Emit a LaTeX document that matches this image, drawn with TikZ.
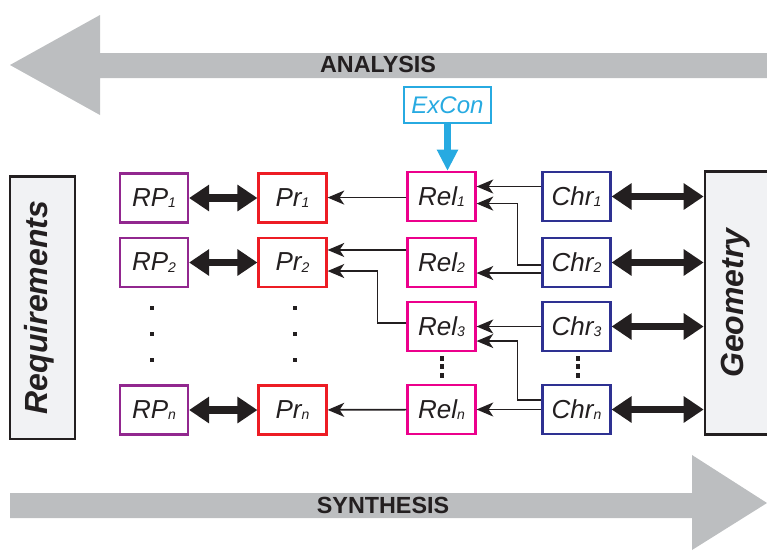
\documentclass[tikz,border=0pt]{standalone}
\usepackage{fontspec}
\setmainfont{Liberation Sans}
\usetikzlibrary{arrows.meta,positioning,calc}
\definecolor{rpcol}{RGB}{146,39,143}
\definecolor{prcol}{RGB}{237,28,36}
\definecolor{relcol}{RGB}{236,0,140}
\definecolor{chrcol}{RGB}{46,49,146}
\definecolor{excol}{RGB}{39,170,225}
\definecolor{bandgray}{RGB}{188,190,192}
\definecolor{panel}{RGB}{241,242,244}
\definecolor{ink}{RGB}{35,31,32}
\newcommand{\ix}[1]{\raisebox{-0.12ex}{\fontsize{10.5}{10.5}\selectfont #1}}

\begin{document}
\begin{tikzpicture}[x=0.75pt,y=-0.75pt,
  box/.style={draw,line width=1.6pt,fill=white,minimum width=51pt,minimum height=36.75pt,
              inner sep=0pt,font=\fontsize{19.5}{19.5}\selectfont\itshape,text=ink},
  rp/.style={box,draw=rpcol},
  pr/.style={box,draw=prcol},
  rel/.style={box,draw=relcol},
  chr/.style={box,draw=chrcol},
  side/.style={draw=ink,line width=2pt,fill=panel,rotate=90,minimum width=197pt,inner sep=0pt,
               font=\fontsize{24}{24}\selectfont\bfseries\itshape,text=ink},
  bigarrow/.style={fill=bandgray},
  title/.style={font=\fontsize{17.5}{17.5}\selectfont\bfseries,text=ink},
  a/.style={-{Stealth[length=12.5pt,width=10.5pt,inset=3.5pt]},line width=1.3pt,ink},
  fat/.style={{Triangle[length=15pt,width=19pt]}-{Triangle[length=15pt,width=19pt]},line width=5.5pt,ink},
  cy/.style={-{Triangle[length=16pt,width=15pt]},line width=5.5pt,excol}]
 \useasboundingbox (0,0) rectangle (767,551);
 % analysis / synthesis bands
 \fill[bigarrow] (767,53) -- (100,53) -- (100,15) -- (10,65) -- (100,115) -- (100,78) -- (767,78) -- cycle;
 \fill[bigarrow] (10,493) -- (692,493) -- (692,455) -- (767,503) -- (692,550) -- (692,518) -- (10,518) -- cycle;
 \node[title] (ana) at (378,64) {ANALYSIS};
 \node[title] (syn) at (383,505) {SYNTHESIS};
 % side panels
 \node[side,minimum height=48.75pt] (req) at (42.5,307.5) {\raisebox{-3.4pt}[0pt][0pt]{Requirements}};
 \node[side,minimum height=60pt] (geom) at (745,303) {\raisebox{1.5pt}[0pt][0pt]{Geometry}};
 % boxes
 \node[rp] (rp1) at (154,198) {RP\ix{1}};
 \node[rp] (rp2) at (154,262.5) {RP\ix{2}};
 \node[rp] (rpn) at (154,410) {RP\ix{n}};
 \node[pr] (pr1) at (292.5,198) {Pr\ix{1}};
 \node[pr] (pr2) at (292.5,262.5) {Pr\ix{2}};
 \node[pr] (prn) at (292.5,410) {Pr\ix{n}};
 \node[rel] (rel1) at (441.5,196.5) {Rel\ix{1}};
 \node[rel] (rel2) at (441.5,262.5) {Rel\ix{2}};
 \node[rel] (rel3) at (441.5,326.5) {Rel\ix{3}};
 \node[rel] (reln) at (441.5,409.5) {Rel\ix{n}};
 \node[chr] (chr1) at (576.5,196.5) {Chr\ix{1}};
 \node[chr] (chr2) at (576.5,262.5) {Chr\ix{2}};
 \node[chr] (chr3) at (576.5,326.5) {Chr\ix{3}};
 \node[chr] (chrn) at (576.5,409.5) {Chr\ix{n}};
 \node[draw=excol,line width=1.5pt,fill=white,minimum width=65.25pt,minimum height=27pt,inner sep=0pt,
       font=\fontsize{18}{18}\selectfont\itshape,text=excol] (excon) at (447.5,105) {ExCon};
 % dots
 \foreach \y in {308,334,360} {
   \fill[ink] (150,\y-2) rectangle ++(4,4);
   \fill[ink] (293,\y-2) rectangle ++(4,4);
 }
 \foreach \y in {358,366.5,375} {
   \fill[ink] (440,\y-2.5) rectangle ++(3.6,5);
   \fill[ink] (576,\y-2.5) rectangle ++(3.6,5);
 }
 % connectors
 \draw[cy] (excon.south) -- (excon.south |- rel1.north);
 \draw[fat] (rp1) -- (pr1); \draw[fat] (rp2) -- (pr2); \draw[fat] (rpn) -- (prn);
 \draw[fat] (chr1) -- (chr1 -| geom.north); \draw[fat] (chr2) -- (chr2 -| geom.north);
 \draw[fat] (chr3) -- (chr3 -| geom.north); \draw[fat] (chrn) -- (chrn -| geom.north);
 \draw[a] ([yshift=-0.8pt]rel1.west) -- ([yshift=-0.8pt]rel1.west -| pr1.east);
 \draw[a] ([yshift=9.4pt]rel2.west) -- ([yshift=9.4pt]pr2.east);
 \draw[a] ([yshift=2.6pt]rel3.west) -- ++(-29,0) |- ([yshift=-6.4pt]pr2.east);
 \draw[a] (reln) -- (prn);
 \draw[a] ([yshift=7.5pt]chr1.west) -- ([yshift=7.5pt]rel1.east);
 \draw[a] ([yshift=-1.9pt]chr2.west) -- ++(-24,0) |- ([yshift=-5.3pt]rel1.east);
 \draw[a] ([yshift=-7.9pt]chr2.west) -- ([yshift=-7.9pt]rel2.east);
 \draw[a] (chr3) -- (rel3);
 \draw[a] ([yshift=7.1pt]chrn.west) -- ++(-24,0) |- ([yshift=-10.9pt]rel3.east);
 \draw[a] (chrn) -- (reln);
\end{tikzpicture}
\end{document}
